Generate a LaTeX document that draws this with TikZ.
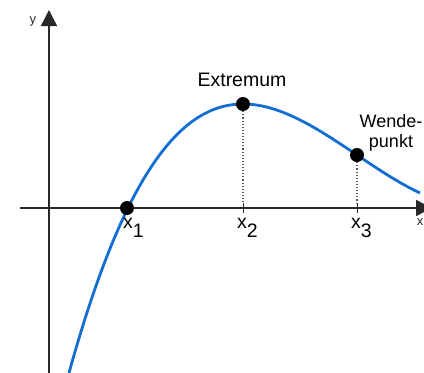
\documentclass[tikz,border=0pt]{standalone}
\usepackage{fontspec}
\setmainfont{Liberation Sans}
\usetikzlibrary{arrows.meta}
\definecolor{curveblue}{RGB}{18,110,210}
\definecolor{axisgray}{RGB}{40,40,40}
\tikzset{
  axisline/.style={line width=1.4pt, draw=axisgray, -{Triangle[length=16pt,width=16pt]}},
  curveline/.style={line width=2.8pt, draw=curveblue},
  dotpt/.style={circle, fill=black, inner sep=0pt, minimum size=14pt},
  guide/.style={line width=1.1pt, draw=black!65, dotted},
  tickline/.style={line width=1pt, draw=axisgray},
  lbl/.style={inner sep=0pt, font=\fontsize{19.5}{22}\selectfont},
  axlbl/.style={inner sep=0pt, font=\fontsize{13}{15}\selectfont, text=axisgray},
}
\newcommand{\subx}[1]{x\raisebox{-0.5em}{#1}}
\begin{document}
\begin{tikzpicture}[x=1pt,y=-1pt]
\useasboundingbox (0,0) rectangle (424,373);
% axes
\coordinate (xs) at (20,208);
\coordinate (xe) at (432,208);
\coordinate (ys) at (49,373);
\coordinate (ye) at (49,10);
\draw[axisline] (xs) -- (xe);
\draw[axisline] (ys) -- (ye);
\node[axlbl] (ylab) at (33,21) {y};
\node[axlbl] (xlab) at (420,222) {x};
% curve
\draw[curveline] plot[domain=-2.88:0.63, samples=120, smooth]
  ({357+100*\x}, {208-(17.2116*(\x*\x*\x-3.8988*\x)+53)});
% ticks
\coordinate (t2a) at (243,203); \coordinate (t2b) at (243,213);
\coordinate (t3a) at (357,203); \coordinate (t3b) at (357,213);
\draw[tickline] (t2a) -- (t2b);
\draw[tickline] (t3a) -- (t3b);
% points
\node[dotpt] (p1) at (127,208) {};
\node[dotpt] (p2) at (243,104) {};
\node[dotpt] (p3) at (357,155) {};
\draw[guide] (p2) -- (t2a);
\draw[guide] (p3) -- (t3a);
% labels
\node[lbl, anchor=base west] (l1) at (123,228) {\subx{1}};
\node[lbl, anchor=base west] (l2) at (237,228) {\subx{2}};
\node[lbl, anchor=base west] (l3) at (351,228) {\subx{3}};
\node[lbl] (ext) at (242,80) {Extremum};
\node[lbl, align=center, font=\fontsize{18}{20}\selectfont] (wp) at (391,133) {Wende-\\punkt};
\end{tikzpicture}
\end{document}
